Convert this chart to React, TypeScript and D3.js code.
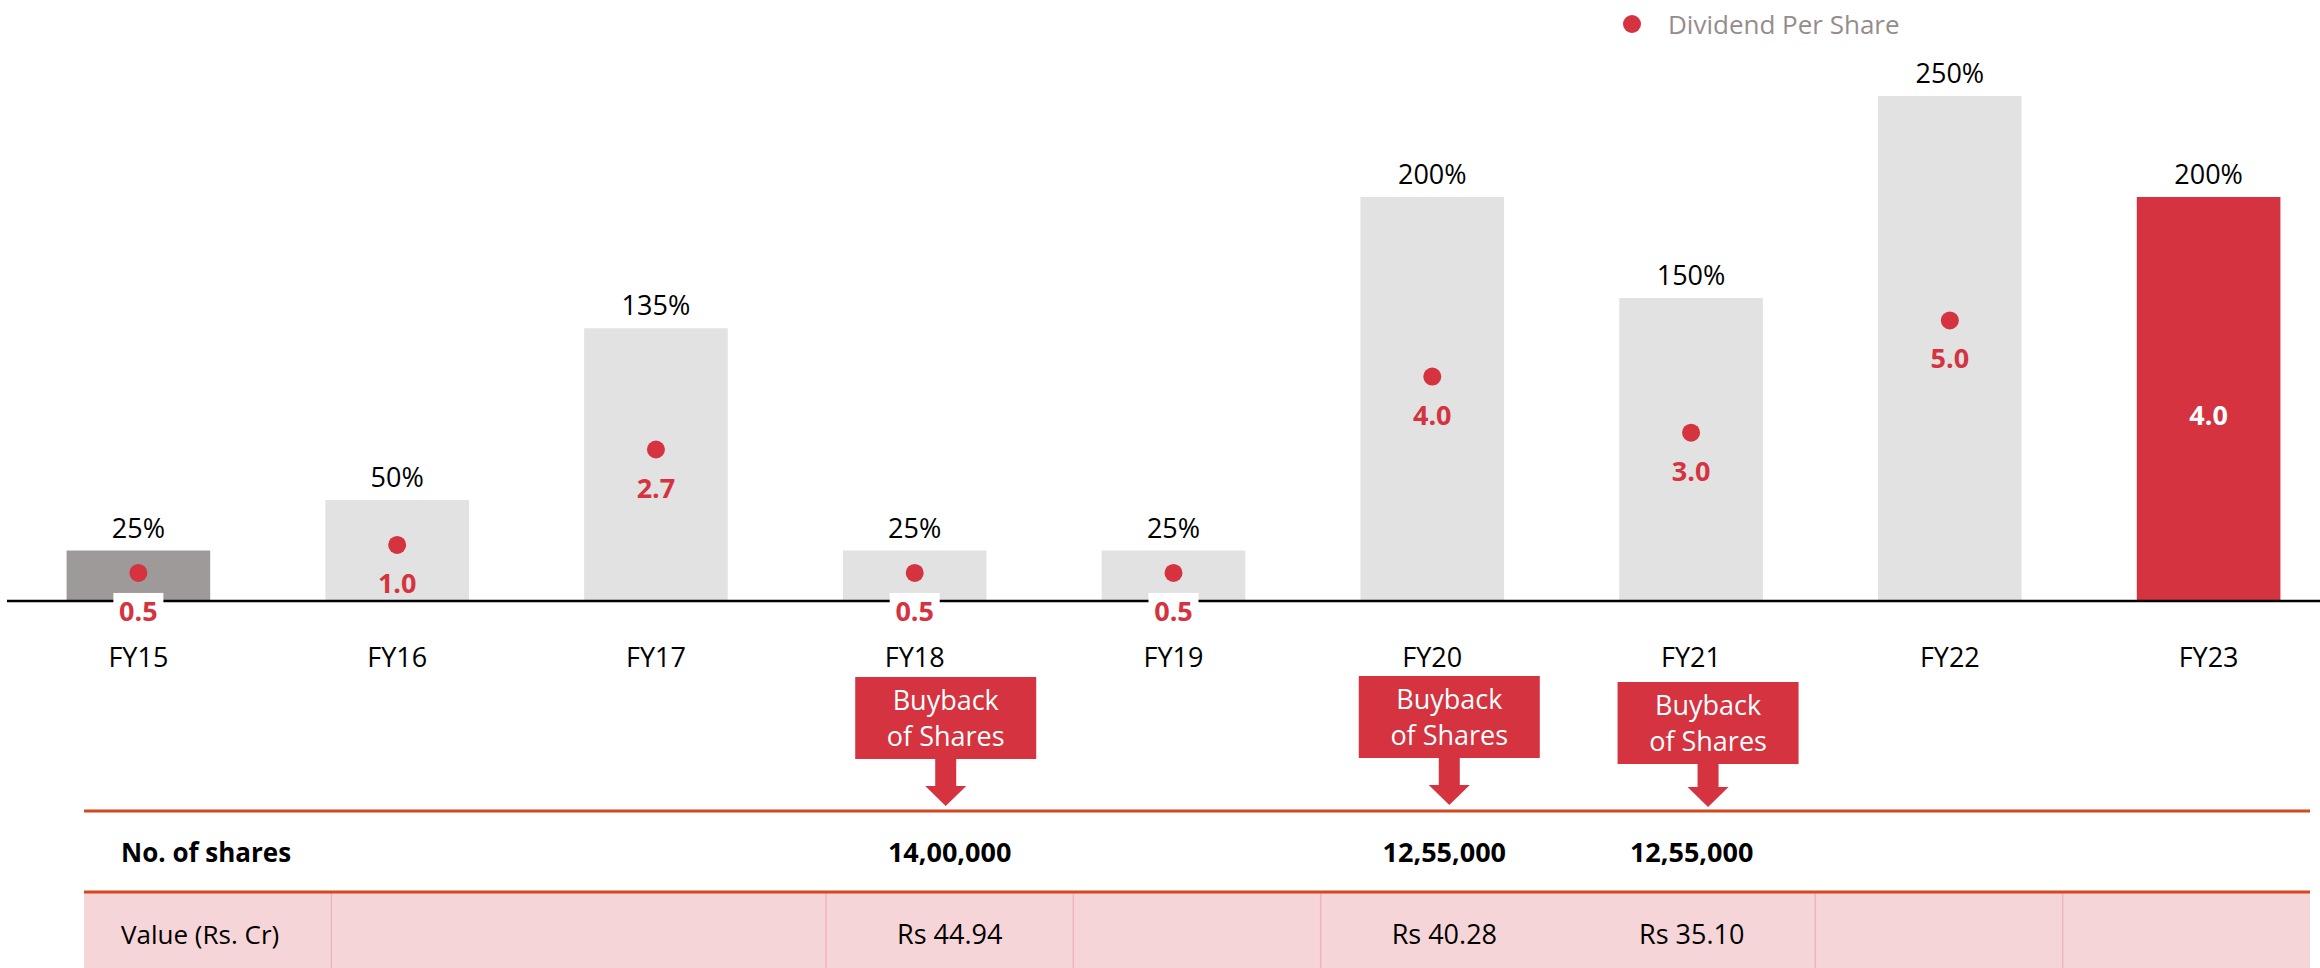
import * as d3 from "d3";

const years = ["FY15", "FY16", "FY17", "FY18", "FY19", "FY20", "FY21", "FY22", "FY23"];
const dividendPct = [25, 50, 135, 25, 25, 200, 150, 250, 200];
const dividendPerShare = [0.5, 1.0, 2.7, 0.5, 0.5, 4.0, 3.0, 5.0, 4.0];

const buybackYears = ["FY18", "FY20", "FY21"];
const sharesBought = ["14,00,000", "12,55,000", "12,55,000"];
const buybackValue = ["Rs 44.94", "Rs 40.28", "Rs 35.10"];

const width = 2320;
const height = 968;
const baseY = 601;
const font = "'Open Sans', 'Noto Sans', sans-serif";

const RED = "#d4333f";
const GREY = "#e1e2e1";
const DARK = "#9e9a99";
const ORANGE = "#d4471f";

// small nudges so the callouts sit where the original ones do
const calloutNudge = [
  { dx: 31, dy: 0 },
  { dx: 17, dy: -1 },
  { dx: 17, dy: 5 },
];

function barColor(i: number) {
  if (i === 0) return DARK;
  if (i === years.length - 1) return RED;
  return GREY;
}

export default function App() {
  const x = d3
    .scaleBand()
    .domain(years)
    .range([9, 2338])
    .paddingInner(0.445)
    .paddingOuter(0.2225);
  const y = d3.scaleLinear().domain([0, 250]).range([baseY, 96]);
  const y2 = d3.scaleLinear().domain([0, 9]).range([baseY, 96]);
  const col = d3.scaleBand().domain(years).range([84, 2310]);

  const bw = x.bandwidth();
  const cx = (yr: string) => (x(yr) as number) + bw / 2;

  return (
    <svg
      width={width}
      height={height}
      style={{ position: "absolute", left: 0, top: 0, fontFamily: font }}
    >
      {/* legend */}
      <circle cx={1632} cy={24} r={9} fill={RED} />
      <text x={1668} y={34} fontSize={26} fill="#978c8c">
        Dividend Per Share
      </text>

      {/* bars */}
      {years.map((yr, i) => (
        <g key={yr}>
          <rect
            x={x(yr)}
            y={y(dividendPct[i])}
            width={bw}
            height={baseY - y(dividendPct[i])}
            fill={barColor(i)}
          />
          <text
            x={cx(yr)}
            y={y(dividendPct[i]) - 13}
            textAnchor="middle"
            fontSize={27}
            fill="#000"
          >
            {dividendPct[i]}%
          </text>
          <text x={cx(yr)} y={667} textAnchor="middle" fontSize={27} fill="#000">
            {yr}
          </text>
        </g>
      ))}

      <line x1={7} x2={width} y1={baseY} y2={baseY} stroke="#000" strokeWidth={2.5} />

      {/* dividend per share points */}
      {years.map((yr, i) => {
        const v = dividendPerShare[i];
        const py = y2(v);
        const isLast = i === years.length - 1;
        return (
          <g key={"d" + yr}>
            <circle cx={cx(yr)} cy={py} r={9} fill={RED} />
            {v < 1 && (
              <rect x={cx(yr) - 25} y={py + 20} width={50} height={36} fill="#fff" />
            )}
            <text
              x={cx(yr)}
              y={py + 48}
              textAnchor="middle"
              fontSize={27}
              fontWeight="bold"
              fill={isLast ? "#fff" : RED}
            >
              {v.toFixed(1)}
            </text>
          </g>
        );
      })}

      {/* buyback callouts */}
      {buybackYears.map((yr, i) => {
        const bx = cx(yr) + calloutNudge[i].dx;
        const top = 677 + calloutNudge[i].dy;
        const bottom = top + 82;
        const tip = 806 + Math.min(calloutNudge[i].dy, 1);
        const arrow = d3.path();
        arrow.moveTo(bx - 10.5, bottom);
        arrow.lineTo(bx + 10.5, bottom);
        arrow.lineTo(bx + 10.5, tip - 20);
        arrow.lineTo(bx + 20.5, tip - 20);
        arrow.lineTo(bx, tip);
        arrow.lineTo(bx - 20.5, tip - 20);
        arrow.lineTo(bx - 10.5, tip - 20);
        arrow.closePath();
        return (
          <g key={"b" + yr}>
            <rect x={bx - 90.5} y={top} width={181} height={82} fill={RED} />
            <path d={arrow.toString()} fill={RED} />
            <text x={bx} y={top + 33} textAnchor="middle" fontSize={27} fill="#fff">
              Buyback
            </text>
            <text x={bx} y={top + 69} textAnchor="middle" fontSize={27} fill="#fff">
              of Shares
            </text>
          </g>
        );
      })}

      {/* table */}
      <rect x={84} y={893} width={2310 - 84} height={80} fill="#f6d5d9" />
      {[1, 3, 4, 5, 7, 8].map((k) => (
        <line
          key={"v" + k}
          x1={col(years[k])}
          x2={col(years[k])}
          y1={893}
          y2={height}
          stroke="#f0b3bb"
          strokeWidth={1.5}
        />
      ))}
      <line x1={84} x2={2310} y1={811} y2={811} stroke={ORANGE} strokeWidth={3} />
      <line x1={84} x2={2310} y1={892} y2={892} stroke={ORANGE} strokeWidth={3} />

      <text x={121} y={862} fontSize={26} fontWeight="bold" fill="#000">
        No. of shares
      </text>
      <text x={121} y={944} fontSize={26} fill="#000">
        Value (Rs. Cr)
      </text>
      {buybackYears.map((yr, i) => {
        const tx = (col(yr) as number) + col.bandwidth() / 2;
        return (
          <g key={"t" + yr}>
            <text x={tx} y={862} textAnchor="middle" fontSize={27} fontWeight="bold" fill="#000">
              {sharesBought[i]}
            </text>
            <text x={tx} y={944} textAnchor="middle" fontSize={27} fill="#000">
              {buybackValue[i]}
            </text>
          </g>
        );
      })}
    </svg>
  );
}
